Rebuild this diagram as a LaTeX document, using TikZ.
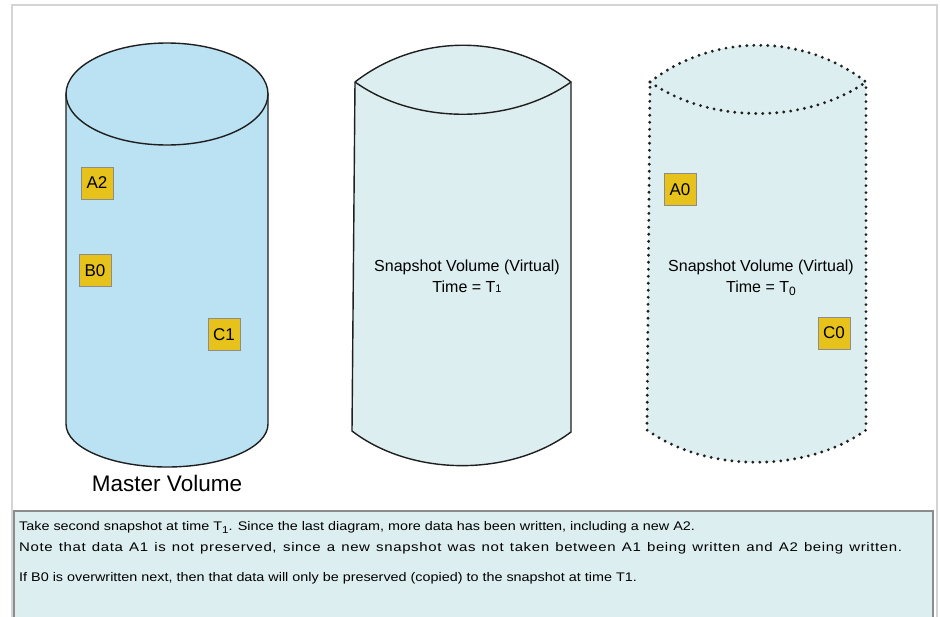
\documentclass[tikz,border=0pt]{standalone}
\usepackage{fontspec}
\setmainfont{Liberation Sans}
\newfontfamily\notefont{Liberation Sans}[FakeStretch=1.15]
\newfontfamily\widenotefont{Liberation Sans}[FakeStretch=1.2, LetterSpace=5]

\definecolor{masterblue}{HTML}{BAE2F3}
\definecolor{snapcyan}{HTML}{DCEEF0}
\definecolor{blockgold}{HTML}{E6C21B}
\definecolor{framegrey}{HTML}{D4D4D4}
\definecolor{boxgrey}{HTML}{8C8C8C}

\tikzset{
  outline/.style   = {draw=black!88, line width=1.4pt},
  dotline/.style   = {draw=black!88, line width=3.2pt, line cap=round,
                      dash pattern=on 0pt off 7pt},
  block/.style     = {shape=rectangle, draw=black!45, fill=blockgold,
                      minimum size=32pt, inner sep=0pt,
                      font=\fontsize{17}{17}\selectfont},
  vollabel/.style  = {align=center, inner sep=0pt,
                      font=\fontsize{16}{21}\selectfont},
  master/.style    = {inner sep=0pt, font=\fontsize{22.5}{25}\selectfont},
  notebox/.style   = {draw=boxgrey, line width=2pt, fill=snapcyan},
  notetext/.style  = {align=left, inner sep=0pt,
                      font=\notefont\fontsize{12.5}{21}\selectfont}
}

\begin{document}
\begin{tikzpicture}[x=1pt,y=-1pt]
  \useasboundingbox (0,0) rectangle (940,616);
  \clip (0,0) rectangle (940,616);
  \draw[framegrey, line width=2.5pt] (12,5) rectangle (937,640);

  % master volume
  \filldraw[outline, fill=masterblue] (66,94) -- (66,424)
     arc[start angle=180, end angle=0, x radius=101, y radius=43]
     -- (268,94) -- cycle;
  \filldraw[outline, fill=masterblue] (167,94) ellipse[x radius=101, y radius=51];
  \node[master, anchor=base] (mastername) at (167,491) {Master Volume};
  \node[block] (a2) at (97,183) {A2};
  \node[block] (b0) at (95,270.5) {B0};
  \node[block] (c1) at (224,334.5) {C1};

  % snapshot at T1
  \begin{scope}
  \filldraw[outline, fill=snapcyan] (355,82) .. controls (418,33) and (508,33) .. (571,82)
     -- (571,432) .. controls (511,477) and (412,477) .. (352,431) -- cycle;
  \draw[outline] (355,82) .. controls (415,125) and (511,125) .. (571,82);
  \node[vollabel, anchor=base] (snapone) at (467,292)
     {Snapshot Volume (Virtual)\\Time = T{\fontsize{11}{11}\selectfont 1}};
  \end{scope}

  % snapshot at T0
  \begin{scope}[xshift=295pt]
  \fill[snapcyan] (355,82) .. controls (418,33) and (508,33) .. (571,82)
     -- (571,430) .. controls (511,473) and (412,473) .. (352,430) -- cycle;
  \draw[dotline] (355,82) .. controls (418,33) and (508,33) .. (571,82)
     -- (571,430) .. controls (511,473) and (412,473) .. (352,430) -- cycle;
  \draw[dotline] (355,82) .. controls (415,124) and (511,124) .. (571,82);
  \node[vollabel, anchor=base] (snapzero) at (466,292)
     {Snapshot Volume (Virtual)\\Time = T\raisebox{-3pt}{\fontsize{12}{12}\selectfont 0}};
  \node[block] (a0) at (385,189.5) {A0};
  \node[block] (c0) at (539,333) {C0};
  \end{scope}

  % notes
  \draw[notebox] (14,511) rectangle (933,640);
  \node[notetext, anchor=base west] (notes) at (19,581)
     {Take second snapshot at time T\raisebox{-3pt}{\fontsize{10}{10}\selectfont 1}. Since the last diagram, more data has been written, including a new A2.\\
      \makebox[883pt][s]{\widenotefont Note that data A1 is not preserved, since a new snapshot was not taken between A1 being written and A2 being written.}\\[9pt]
      If B0 is overwritten next, then that data will only be preserved (copied) to the snapshot at time T1.};
\end{tikzpicture}
\end{document}
